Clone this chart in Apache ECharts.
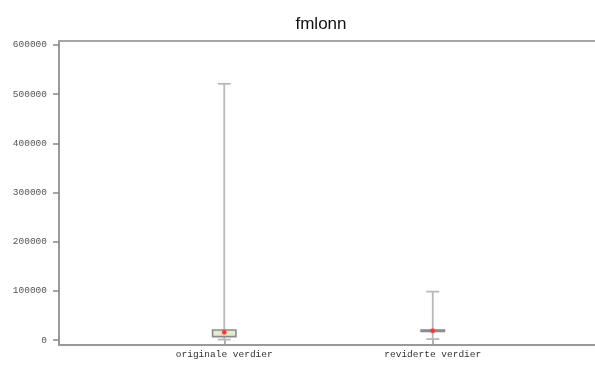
<!DOCTYPE html>
<html>
<head>
<meta charset="utf-8">
<script src="https://cdn.jsdelivr.net/npm/echarts@6/dist/echarts.min.js"></script>
<style>
  html, body { margin: 0; padding: 0; background: #fff; }
  #chart { width: 595px; height: 372px; }
</style>
</head>
<body>
<div id="chart"></div>
<script>
// Box statistics per group
const categories = ['originale verdier', 'reviderte verdier'];
const lowWhisker = [1000, 2000];
const q1 = [7100, 17500];
const median = [16000, 19000];
const q3 = [20500, 20500];
const highWhisker = [521000, 98500];
const yTicks = [0, 100000, 200000, 300000, 400000, 500000, 600000];

const boxData = categories.map((c, i) => [i, lowWhisker[i], q1[i], median[i], q3[i], highWhisker[i]]);

const chart = echarts.init(document.getElementById('chart'), null, { renderer: 'canvas' });

const yMin = -10000, yMax = 608000;
const mono = '"Liberation Mono", "DejaVu Sans Mono", monospace';

function renderBox(params, api) {
  const i = api.value(0);
  const lo = api.coord([i, api.value(1)]);
  const b1 = api.coord([i, api.value(2)]);
  const md = api.coord([i, api.value(3)]);
  const b3 = api.coord([i, api.value(4)]);
  const hi = api.coord([i, api.value(5)]);
  const band = api.size([1, 0])[0];
  const boxHalf = band * 0.056;
  const capHalf = band * 0.031;
  const x = lo[0];
  const whisker = { stroke: '#b8b8b8', lineWidth: 1.8 };
  return {
    type: 'group',
    children: [
      { type: 'line', shape: { x1: x, y1: hi[1], x2: x, y2: b3[1] }, style: whisker },
      { type: 'line', shape: { x1: x, y1: b1[1], x2: x, y2: lo[1] }, style: whisker },
      { type: 'line', shape: { x1: x - capHalf, y1: hi[1], x2: x + capHalf, y2: hi[1] }, style: whisker },
      { type: 'line', shape: { x1: x - capHalf, y1: lo[1], x2: x + capHalf, y2: lo[1] }, style: whisker },
      { type: 'rect', shape: { x: x - boxHalf, y: b3[1], width: boxHalf * 2, height: Math.max(b1[1] - b3[1], 1) },
        style: { fill: '#e6ead0', stroke: '#8c8c8c', lineWidth: 1.6 } },
      { type: 'circle', shape: { cx: x, cy: md[1], r: 2.2 }, style: { fill: '#f23a3a', shadowBlur: 2, shadowColor: 'rgba(255,60,60,0.6)' } }
    ]
  };
}

const frameLine = { show: true, onZero: false, lineStyle: { color: '#a6a6a6', width: 2 } };

chart.setOption({
  animation: false,
  title: {
    text: 'fmlonn',
    left: 316, top: 11, textAlign: 'center',
    textStyle: { fontFamily: '"Liberation Sans", Arial, sans-serif', fontSize: 17, fontWeight: 'normal', color: '#111' }
  },
  grid: [
    { left: 59, top: 41, right: 0, bottom: 27 },
    { left: 120, top: 41, right: 58, bottom: 27 }
  ],
  xAxis: [
    { type: 'value', gridIndex: 0, min: 0, max: 1, position: 'bottom', axisLabel: { show: false }, axisTick: { show: false },
      splitLine: { show: false }, axisLine: { show: true, onZero: false, lineStyle: { color: '#999', width: 2 } } },
    { type: 'category', gridIndex: 1, data: categories, boundaryGap: true,
      axisLine: { show: false },
      axisTick: { show: true, alignWithLabel: true, length: 6, lineStyle: { color: '#999', width: 1.5 } },
      axisLabel: { fontFamily: mono, fontSize: 9.5, color: '#333', margin: 4 } },
    { type: 'value', gridIndex: 0, min: 0, max: 1, position: 'top', axisLabel: { show: false }, axisTick: { show: false },
      splitLine: { show: false }, axisLine: frameLine }
  ],
  yAxis: [
    { type: 'value', gridIndex: 0, min: yMin, max: yMax,
      axisLine: { show: true, lineStyle: { color: '#999', width: 2 } },
      axisTick: { show: true, length: 6, customValues: yTicks, lineStyle: { color: '#888', width: 1.5 } },
      axisLabel: { customValues: yTicks, formatter: v => String(v), fontFamily: mono, fontSize: 9.5, color: '#555', margin: 12 },
      splitLine: { show: false } },
    { type: 'value', gridIndex: 1, min: yMin, max: yMax, show: false, splitLine: { show: false } }
  ],
  series: [
    { type: 'custom', xAxisIndex: 1, yAxisIndex: 1, data: boxData, renderItem: renderBox,
      encode: { x: 0, y: [1, 2, 3, 4, 5] } }
  ]
});
</script>
</body>
</html>
